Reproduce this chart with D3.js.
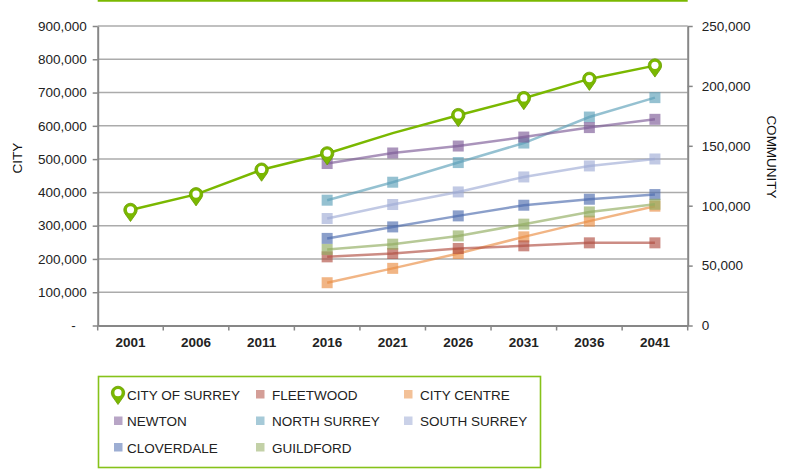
<!DOCTYPE html>
<html>
<head>
<meta charset="utf-8">
<script src="https://cdn.jsdelivr.net/npm/d3@7"></script>
<style>
  body { margin: 0; background: #fff; }
  svg { display: block; font-family: "Liberation Sans", Arial, sans-serif; }
</style>
</head>
<body>
<svg id="chart" width="793" height="475"></svg>
<script>
// ---- data ----
const years = ['2001', '2006', '2011', '2016', '2021', '2026', '2031', '2036', '2041'];

// city of surrey, left axis
const surrey = [347000, 394000, 468000, 517000, 578000, 632000, 683000, 741000, 781000];
const surreyPinYears = ['2001', '2006', '2011', '2016', '2026', '2031', '2036', '2041'];

// communities, right axis (no values before 2016)
const fleetwood   = [null, null, null, 57300, 60100, 64300, 66500, 69000, 69000];
const cityCentre  = [null, null, null, 35700, 47700, 60100, 74000, 87100, 99600];
const newton      = [null, null, null, 135200, 144000, 149800, 157300, 165200, 172100];
const northSurrey = [null, null, null, 104600, 119600, 136000, 152300, 174000, 190200];
const southSurrey = [null, null, null, 89300, 101000, 111500, 124000, 133200, 139000];
const cloverdale  = [null, null, null, 72700, 82300, 91500, 100400, 105400, 109300];
const guildford   = [null, null, null, 63500, 67900, 74800, 84600, 94800, 101200];

const leftTicks = [0, 100000, 200000, 300000, 400000, 500000, 600000, 700000, 800000, 900000];
const rightTicks = [0, 50000, 100000, 150000, 200000, 250000];

const community = [
  { name: 'FLEETWOOD',    values: fleetwood,   color: '#b04f42' },
  { name: 'CITY CENTRE',  values: cityCentre,  color: '#ea8e44' },
  { name: 'NEWTON',       values: newton,      color: '#7d5b97' },
  { name: 'NORTH SURREY', values: northSurrey, color: '#5c9fb8' },
  { name: 'SOUTH SURREY', values: southSurrey, color: '#9facd6' },
  { name: 'CLOVERDALE',   values: cloverdale,  color: '#4d6cae' },
  { name: 'GUILDFORD',    values: guildford,   color: '#91ac5f' }
];
// draw order (back to front) roughly like the reference
const drawOrder = ['NORTH SURREY', 'NEWTON', 'SOUTH SURREY', 'CLOVERDALE', 'CITY CENTRE', 'FLEETWOOD', 'GUILDFORD'];

const GREEN = '#7ab800';
const GRID = '#ababab';
const AXIS = '#878787';
const FS = 13.5;

// ---- layout ----
const svg = d3.select('#chart');
const plot = { left: 97.7, right: 687.7, top: 26, bottom: 325.5 };

const x = d3.scaleBand().domain(years).range([plot.left, plot.right]);
const yL = d3.scaleLinear().domain([0, 900000]).range([plot.bottom, plot.top]);
const yR = d3.scaleLinear().domain([0, 250000]).range([plot.bottom, plot.top]);
const cx = d => x(d) + x.bandwidth() / 2;

// top green rule
svg.append('line')
  .attr('x1', plot.left).attr('x2', plot.right)
  .attr('y1', 0.8).attr('y2', 0.8)
  .attr('stroke', GREEN).attr('stroke-width', 2);

// gridlines
svg.append('g').selectAll('line')
  .data(leftTicks.filter(d => d > 0)).enter().append('line')
  .attr('x1', plot.left).attr('x2', plot.right)
  .attr('y1', d => yL(d)).attr('y2', d => yL(d))
  .attr('stroke', GRID).attr('stroke-width', 1.5);

// left axis
const gL = svg.append('g')
  .attr('transform', `translate(${plot.left},0)`)
  .call(d3.axisLeft(yL).tickValues(leftTicks).tickSize(5).tickSizeOuter(0).tickPadding(6)
    .tickFormat(d => d === 0 ? '-' : d3.format(',')(d)));
gL.selectAll('text').attr('font-size', FS).attr('fill', '#222').style('font-family', 'inherit');
gL.selectAll('.tick').filter(d => d === 0).select('text').attr('x', -22);

// right axis
const gR = svg.append('g')
  .attr('transform', `translate(${plot.right},0)`)
  .call(d3.axisRight(yR).tickValues(rightTicks).tickSize(5).tickSizeOuter(0).tickPadding(9)
    .tickFormat(d3.format(',')));
gR.selectAll('text').attr('font-size', FS).attr('fill', '#222').style('font-family', 'inherit');

// bottom axis
const gB = svg.append('g')
  .attr('transform', `translate(0,${plot.bottom})`)
  .call(d3.axisBottom(x).tickSize(0).tickSizeOuter(0).tickPadding(12));
gB.selectAll('text').attr('font-size', FS).attr('font-weight', 'bold').attr('fill', '#222')
  .style('font-family', 'inherit');
gB.selectAll('.boundary')
  .data(years.map(d => x(d)).concat([plot.right])).enter().append('line')
  .attr('class', 'boundary')
  .attr('x1', d => d).attr('x2', d => d)
  .attr('y1', 0).attr('y2', 5);

[gL, gR, gB].forEach(g => {
  g.select('.domain').attr('stroke', AXIS).attr('stroke-width', 2);
  g.selectAll('line').attr('stroke', AXIS).attr('stroke-width', 1.5);
});

// axis titles
svg.append('text')
  .attr('transform', 'translate(22,158) rotate(-90)')
  .attr('text-anchor', 'middle').attr('font-size', FS).attr('fill', '#111')
  .text('CITY');
svg.append('text')
  .attr('transform', 'translate(767,157) rotate(90)')
  .attr('text-anchor', 'middle').attr('font-size', FS).attr('fill', '#111')
  .text('COMMUNITY');

// community series
const line = d3.line()
  .defined(d => d.v != null)
  .x(d => cx(d.year))
  .y(d => yR(d.v));

drawOrder.forEach(name => {
  const s = community.find(c => c.name === name);
  const pts = years.map((year, i) => ({ year, v: s.values[i] }));
  const g = svg.append('g');
  g.append('path')
    .datum(pts)
    .attr('d', line)
    .attr('fill', 'none')
    .attr('stroke', s.color).attr('stroke-width', 2.5).attr('stroke-opacity', 0.65);
  g.selectAll('rect')
    .data(pts.filter(d => d.v != null)).enter().append('rect')
    .attr('x', d => cx(d.year) - 5.5).attr('y', d => yR(d.v) - 5.5)
    .attr('width', 11).attr('height', 11)
    .attr('fill', s.color).attr('fill-opacity', 0.65);
});

// city of surrey
const surreyPts = years.map((year, i) => ({ year, v: surrey[i] }));
svg.append('path')
  .datum(surreyPts)
  .attr('d', d3.line().x(d => cx(d.year)).y(d => yL(d.v)))
  .attr('fill', 'none').attr('stroke', GREEN).attr('stroke-width', 2.5);

const pinPath = 'M0,11.5 L-5.6,3.6 A6.7,6.7 0 1,1 5.6,3.6 Z';
function drawPin(sel, scale) {
  sel.append('path').attr('d', pinPath)
    .attr('transform', `scale(${scale})`)
    .attr('fill', GREEN).attr('stroke', '#6a9c00').attr('stroke-width', 0.8);
  sel.append('circle').attr('r', 3.6 * scale).attr('cy', -0.3).attr('fill', '#fff');
}

svg.append('g').selectAll('g')
  .data(surreyPts.filter(d => surreyPinYears.includes(d.year))).enter().append('g')
  .attr('transform', d => `translate(${cx(d.year)},${yL(d.v)})`)
  .each(function () { drawPin(d3.select(this), 1); });

// legend
const legend = svg.append('g');
legend.append('rect')
  .attr('x', 98.5).attr('y', 376.5).attr('width', 442).attr('height', 91)
  .attr('fill', '#fff').attr('stroke', '#86c21a').attr('stroke-width', 1.6);

const legendItems = [
  { name: 'CITY OF SURREY', pin: true },
  { name: 'FLEETWOOD' }, { name: 'CITY CENTRE' },
  { name: 'NEWTON' }, { name: 'NORTH SURREY' }, { name: 'SOUTH SURREY' },
  { name: 'CLOVERDALE' }, { name: 'GUILDFORD' }
];
const colX = [118, 260, 408];
const textX = [127, 272, 420];
const rowY = [395, 421.5, 448];

legendItems.forEach((it, i) => {
  const col = i % 3, row = Math.floor(i / 3);
  const g = legend.append('g');
  if (it.pin) {
    const p = g.append('g').attr('transform', `translate(${colX[col]},${rowY[row] - 2})`);
    drawPin(p, 1);
  } else {
    const s = community.find(c => c.name === it.name);
    g.append('rect')
      .attr('x', colX[col] - 4).attr('y', rowY[row] - 5)
      .attr('width', 8.5).attr('height', 8.5)
      .attr('fill', s.color).attr('fill-opacity', 0.55);
  }
  g.append('text')
    .attr('x', textX[col]).attr('y', rowY[row] + 4.8)
    .attr('font-size', FS).attr('fill', '#222')
    .text(it.name);
});
</script>
</body>
</html>
